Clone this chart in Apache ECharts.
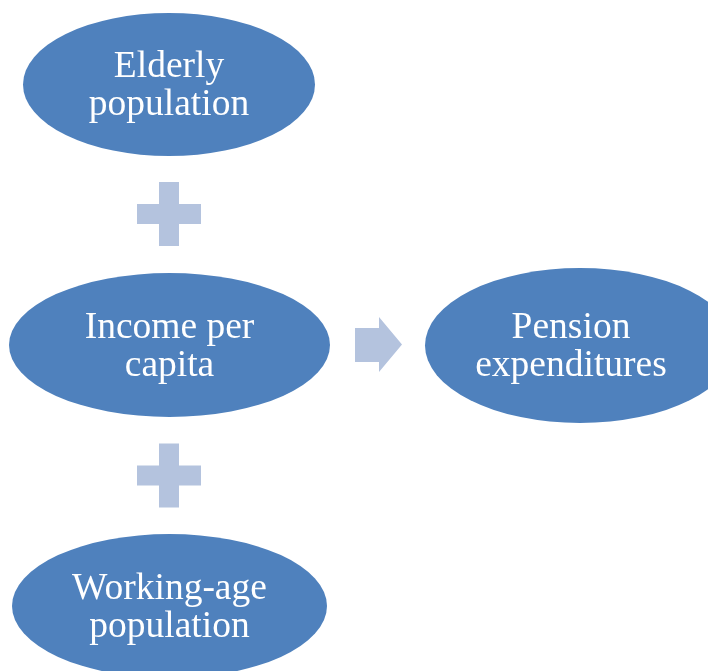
<!DOCTYPE html>
<html>
<head>
<meta charset="utf-8">
<script src="https://cdn.jsdelivr.net/npm/echarts@6/dist/echarts.min.js"></script>
<style>
  html, body { margin: 0; padding: 0; background: #fff; }
  #main { width: 708px; height: 671px; }
</style>
</head>
<body>
<div id="main"></div>
<script>
// diagram nodes: label text and centre (in a 708 x 671 plane)
const nodeNames = ['Elderly\npopulation', 'Income per\ncapita', 'Working-age\npopulation', 'Pension\nexpenditures'];
const nodeX = [169, 169.5, 169.5, 580];
const nodeY = [84.5, 345, 606, 345.5];
// connector marks between nodes
const plusX = [169, 169];
const plusY = [214, 475.5];
const arrowX = [378.5];
const arrowY = [344.5];

const nodeSizes = [[292, 143], [321, 144], [315, 144], [310, 155]];
const labelShift = [[0, 2], [0, 2], [0, 2], [-9, 2]];

const ellipse = 'path://M0,50A50,50,0,1,1,100,50A50,50,0,1,1,0,50Z';
const plus = 'path://M22,0H42V22H64V42H42V64H22V42H0V22H22Z';
const arrow = 'path://M0,11H24V0L47,27.5L24,55V45H0Z';

const chart = echarts.init(document.getElementById('main'));
chart.setOption({
  animation: false,
  grid: { left: 0, right: 0, top: 0, bottom: 0 },
  xAxis: { type: 'value', min: 0, max: 708, show: false },
  yAxis: { type: 'value', min: 0, max: 671, inverse: true, show: false },
  series: [
    {
      type: 'scatter',
      symbol: plus,
      symbolSize: [64, 64],
      itemStyle: { color: '#b4c3de', opacity: 1 },
      data: plusX.map((x, i) => [x, plusY[i]]),
      silent: true,
    },
    {
      type: 'scatter',
      symbol: arrow,
      symbolSize: [47, 55],
      itemStyle: { color: '#b4c3de', opacity: 1 },
      data: arrowX.map((x, i) => [x, arrowY[i]]),
      silent: true,
    },
    {
      type: 'scatter',
      symbol: ellipse,
      itemStyle: { color: '#4f81bd', opacity: 1 },
      label: {
        show: true,
        position: 'inside',
        color: '#fff',
        fontFamily: '"Liberation Serif", "Times New Roman", serif',
        fontSize: 37.5,
        lineHeight: 38,
        formatter: (p) => p.name,
      },
      data: nodeNames.map((name, i) => ({
        name,
        value: [nodeX[i], nodeY[i]],
        symbolSize: nodeSizes[i],
        label: { offset: labelShift[i] },
      })),
      silent: true,
    },
  ],
});
</script>
</body>
</html>
